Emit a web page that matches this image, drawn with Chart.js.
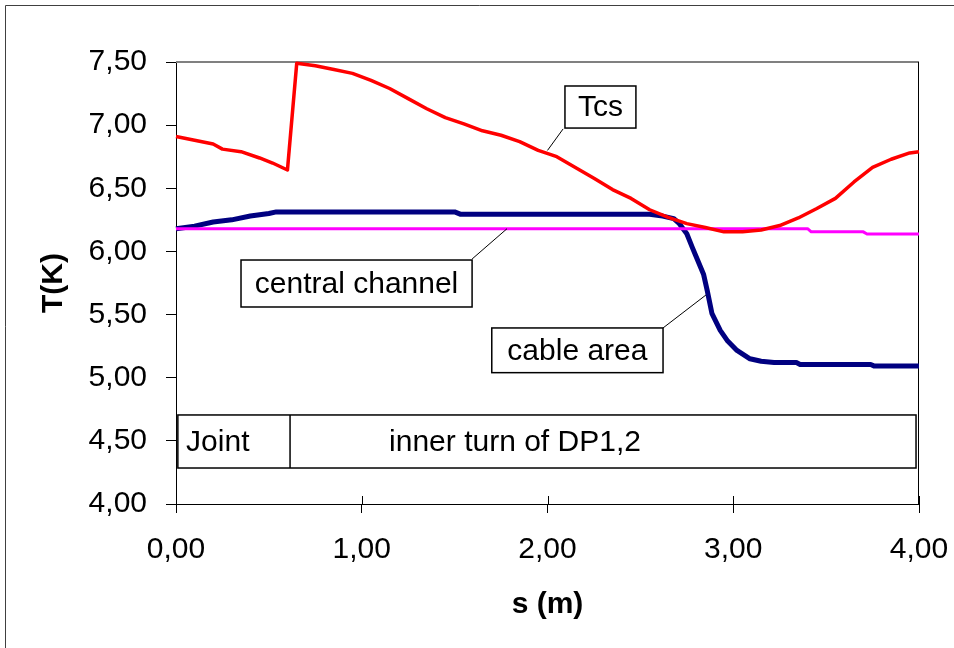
<!DOCTYPE html>
<html>
<head>
<meta charset="utf-8">
<script src="https://cdn.jsdelivr.net/npm/chart.js@4"></script>
<style>
  html, body { margin: 0; padding: 0; background: #fff; }
  #wrap { width: 954px; height: 648px; position: relative; }
</style>
</head>
<body>
<div id="wrap"><canvas id="chart"></canvas></div>
<script>
const xTicks = [0, 1, 2, 3, 4];
const yTicks = [4, 4.5, 5, 5.5, 6, 6.5, 7, 7.5];

const tcsS = [0, 0.1, 0.2, 0.25, 0.35, 0.45, 0.52, 0.6, 0.65, 0.75, 0.85, 0.95, 1.05, 1.15, 1.25, 1.35, 1.45, 1.55, 1.65, 1.75, 1.85, 1.95, 2.05, 2.15, 2.25, 2.35, 2.45, 2.55, 2.65, 2.75, 2.85, 2.95, 3.05, 3.15, 3.25, 3.35, 3.45, 3.55, 3.65, 3.75, 3.85, 3.95, 4.0];
const tcsT = [6.91, 6.88, 6.85, 6.81, 6.79, 6.74, 6.70, 6.645, 7.49, 7.47, 7.44, 7.41, 7.355, 7.29, 7.21, 7.13, 7.06, 7.01, 6.955, 6.92, 6.87, 6.80, 6.75, 6.665, 6.58, 6.49, 6.42, 6.33, 6.27, 6.22, 6.19, 6.155, 6.155, 6.17, 6.205, 6.265, 6.34, 6.42, 6.55, 6.665, 6.73, 6.78, 6.79];

const centralS = [0, 3.4, 3.42, 3.70, 3.72, 4.0, 4.02, 4.06];
const centralT = [6.18, 6.18, 6.155, 6.155, 6.138, 6.138, 6.12, 6.12];

const cableS = [0, 0.1, 0.2, 0.3, 0.4, 0.5, 0.54, 1.5, 1.53, 2.55, 2.62, 2.68, 2.71, 2.75, 2.78, 2.8, 2.84, 2.86, 2.885, 2.93, 2.97, 3.02, 3.09, 3.15, 3.22, 3.34, 3.36, 3.74, 3.76, 4.0];
const cableT = [6.18, 6.2, 6.233, 6.25, 6.28, 6.30, 6.313, 6.313, 6.295, 6.295, 6.28, 6.26, 6.22, 6.14, 6.03, 5.96, 5.82, 5.69, 5.51, 5.375, 5.29, 5.216, 5.15, 5.13, 5.12, 5.12, 5.105, 5.105, 5.092, 5.092];

const FONT = "'Liberation Sans', Arial, sans-serif";

function pts(xs, ys) {
  return xs.map((x, i) => ({ x: x, y: ys[i] }));
}

function comma(v) {
  return Number(v).toFixed(2).replace(".", ",");
}

// labels drawn on the chart, placed in data units
const notes = [
  { text: "Tcs", box: [2.094, 7.31, 2.476, 6.977], lead: [2.084, 6.97, 2.0, 6.80] },
  { text: "central channel", box: [0.35, 5.932, 1.594, 5.56], lead: [1.594, 5.94, 1.782, 6.18] },
  { text: "cable area", box: [1.70, 5.394, 2.622, 5.04], lead: [2.622, 5.394, 2.853, 5.655] },
];

const extras = {
  id: "extras",
  beforeDatasetsDraw(chart) {
    const { ctx, chartArea: a } = chart;
    const x = chart.scales.x;
    ctx.save();
    // plot frame: grey top, black right
    ctx.strokeStyle = "#808080";
    ctx.lineWidth = 2;
    ctx.beginPath();
    ctx.moveTo(a.left, a.top);
    ctx.lineTo(a.right, a.top);
    ctx.stroke();
    ctx.strokeStyle = "#000";
    ctx.lineWidth = 1;
    ctx.beginPath();
    ctx.moveTo(a.right - 0.5, a.top);
    ctx.lineTo(a.right - 0.5, a.bottom);
    ctx.stroke();
    // inner half of the x ticks
    ctx.beginPath();
    xTicks.forEach((v) => {
      const px = Math.round(x.getPixelForValue(v)) + 0.5;
      ctx.moveTo(px, a.bottom);
      ctx.lineTo(px, a.bottom - 8);
    });
    ctx.stroke();
    // outer frame of the picture
    ctx.strokeStyle = "#404040";
    ctx.beginPath();
    ctx.moveTo(5.5, 648);
    ctx.lineTo(5.5, 5.5);
    ctx.lineTo(954, 5.5);
    ctx.stroke();
    ctx.restore();
  },
  afterDatasetsDraw(chart) {
    const { ctx } = chart;
    const sx = chart.scales.x, sy = chart.scales.y;
    const X = (v) => sx.getPixelForValue(v);
    const Y = (v) => sy.getPixelForValue(v);
    ctx.save();
    ctx.font = "30px " + FONT;
    ctx.textBaseline = "middle";
    ctx.textAlign = "center";
    notes.forEach((n) => {
      const [x0, y0, x1, y1] = n.box;
      const l = X(x0), t = Y(y0), r = X(x1), b = Y(y1);
      ctx.strokeStyle = "#000";
      ctx.lineWidth = 1;
      ctx.beginPath();
      ctx.moveTo(X(n.lead[0]), Y(n.lead[1]));
      ctx.lineTo(X(n.lead[2]), Y(n.lead[3]));
      ctx.stroke();
      ctx.fillStyle = "#fff";
      ctx.fillRect(l, t, r - l, b - t);
      ctx.lineWidth = 1.5;
      ctx.strokeRect(l, t, r - l, b - t);
      ctx.fillStyle = "#000";
      ctx.fillText(n.text, (l + r) / 2, (t + b) / 2 + 1);
    });
    // Joint / inner turn strip
    const l = X(0.01), r = X(3.984), t = Y(4.705), b = Y(4.285), d = X(0.614);
    ctx.fillStyle = "#fff";
    ctx.fillRect(l, t, r - l, b - t);
    ctx.strokeStyle = "#000";
    ctx.lineWidth = 1.5;
    ctx.strokeRect(l, t, r - l, b - t);
    ctx.beginPath();
    ctx.moveTo(d, t);
    ctx.lineTo(d, b);
    ctx.stroke();
    ctx.fillStyle = "#000";
    ctx.fillText("Joint", X(0.225), (t + b) / 2 + 1);
    ctx.fillText("inner turn of DP1,2", X(1.825), (t + b) / 2 + 1);
    ctx.restore();
  },
};

new Chart(document.getElementById("chart"), {
  type: "line",
  data: {
    datasets: [
      { label: "Tcs", data: pts(tcsS, tcsT), borderColor: "#ff0000", borderWidth: 3.5, order: 0, clip: false },
      { label: "central channel", data: pts(centralS, centralT), borderColor: "#ff00ff", borderWidth: 3, order: 1, clip: false },
      { label: "cable area", data: pts(cableS, cableT), borderColor: "#000080", borderWidth: 5, order: 2, clip: false },
    ],
  },
  options: {
    responsive: true,
    maintainAspectRatio: false,
    animation: false,
    events: [],
    layout: { padding: { left: 0, top: 62, right: 35, bottom: 0 } },
    elements: {
      point: { radius: 0 },
      line: { tension: 0, fill: false, borderCapStyle: "butt", borderJoinStyle: "round" },
    },
    plugins: { legend: { display: false }, tooltip: { enabled: false } },
    scales: {
      x: {
        type: "linear",
        min: 0,
        max: 4,
        afterFit(scale) {
          scale.height = 144;
          scale.paddingLeft = 0;
          scale.paddingRight = 0;
        },
        afterBuildTicks(scale) { scale.ticks = xTicks.map((v) => ({ value: v })); },
        grid: { drawOnChartArea: false, tickLength: 9, color: "#000", tickWidth: 1 },
        border: { color: "#000", width: 1 },
        ticks: {
          padding: 19,
          color: "#000",
          font: { family: FONT, size: 30 },
          maxRotation: 0,
          callback: (v) => comma(v),
        },
        title: {
          display: true,
          text: "s (m)",
          color: "#000",
          font: { family: FONT, size: 30, weight: "bold" },
          padding: { top: 0, bottom: 25 },
        },
      },
      y: {
        min: 4,
        max: 7.5,
        afterFit(scale) {
          scale.width = 176;
          scale.paddingTop = 0;
          scale.paddingBottom = 0;
        },
        afterBuildTicks(scale) { scale.ticks = yTicks.map((v) => ({ value: v })); },
        grid: { drawOnChartArea: false, tickLength: 10, color: "#000", tickWidth: 1 },
        border: { color: "#000", width: 1 },
        ticks: {
          padding: 19,
          color: "#000",
          font: { family: FONT, size: 30 },
          callback: (v) => comma(v),
        },
        title: {
          display: true,
          text: "T(K)",
          color: "#000",
          font: { family: FONT, size: 30, weight: "bold" },
          padding: { top: 36, bottom: 0 },
        },
      },
    },
  },
  plugins: [extras],
});
</script>
</body>
</html>
